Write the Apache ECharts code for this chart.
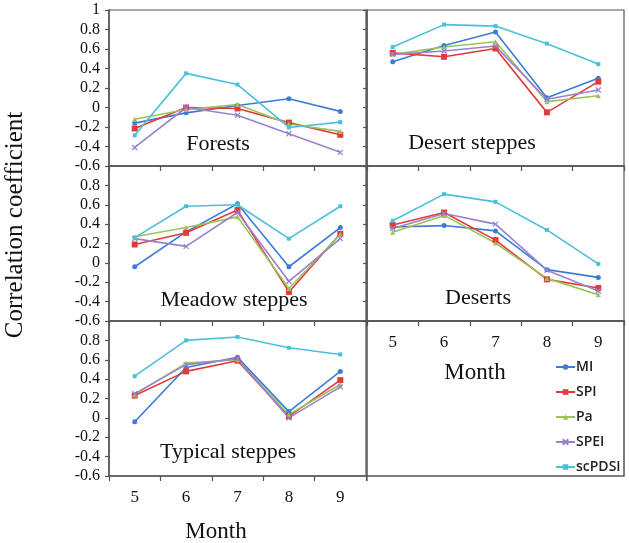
<!DOCTYPE html>
<html>
<head>
<meta charset="utf-8">
<script src="https://cdn.jsdelivr.net/npm/echarts@6/dist/echarts.min.js"></script>
<style>
html,body{margin:0;padding:0;background:#fff;}
#c{width:629px;height:543px;}
</style>
</head>
<body>
<div id="c"></div>
<script>
// ---- data ----
const months = ['5', '6', '7', '8', '9'];
const indexNames = ['MI', 'SPI', 'Pa', 'SPEI', 'scPDSI'];
const yTicks = [-0.6, -0.4, -0.2, 0, 0.2, 0.4, 0.6, 0.8, 1];

// order of rows: MI, SPI, Pa, SPEI, scPDSI
const forests = [
  [-0.16, -0.055, 0.02, 0.09, -0.04],
  [-0.215, 0.0, -0.01, -0.155, -0.28],
  [-0.12, -0.02, 0.03, -0.17, -0.245],
  [-0.41, 0.0, -0.08, -0.27, -0.46],
  [-0.285, 0.35, 0.235, -0.205, -0.15]
];
const desertSteppes = [
  [0.47, 0.635, 0.775, 0.1, 0.3],
  [0.56, 0.52, 0.605, -0.05, 0.265],
  [0.545, 0.62, 0.675, 0.06, 0.12],
  [0.545, 0.58, 0.63, 0.085, 0.18],
  [0.62, 0.85, 0.835, 0.655, 0.445]
];
const meadowSteppes = [
  [-0.04, 0.32, 0.61, -0.04, 0.365],
  [0.19, 0.31, 0.545, -0.30, 0.30],
  [0.27, 0.365, 0.475, -0.265, 0.295],
  [0.25, 0.17, 0.52, -0.19, 0.25],
  [0.26, 0.585, 0.60, 0.25, 0.585]
];
const deserts = [
  [0.37, 0.385, 0.33, -0.07, -0.15],
  [0.39, 0.52, 0.235, -0.17, -0.26],
  [0.315, 0.49, 0.205, -0.16, -0.33],
  [0.355, 0.51, 0.40, -0.075, -0.29],
  [0.435, 0.71, 0.63, 0.34, -0.01]
];
const typicalSteppes = [
  [-0.04, 0.52, 0.625, 0.065, 0.48],
  [0.23, 0.48, 0.59, 0.015, 0.39],
  [0.24, 0.565, 0.60, 0.035, 0.345],
  [0.25, 0.55, 0.61, 0.0, 0.32],
  [0.43, 0.80, 0.835, 0.724, 0.655]
];
const panelNames = ['Forests', 'Desert steppes', 'Meadow steppes', 'Deserts', 'Typical steppes'];

// ---- styling ----
const colors = ['#3a7dd6', '#e23a3a', '#9cc35a', '#9a82cf', '#4cc0da'];
const symbols = ['circle', 'rect', 'triangle', 'path://M0,0L10,10M10,0L0,10', 'rect'];
const symbolSizes = [5, 6, 5, 5, 4];
const lineCol = '#555';
const serif = '"Liberation Serif", "Times New Roman", serif';

const panels = [forests, desertSteppes, meadowSteppes, deserts, typicalSteppes];
const L = 109, R = 367, W = 257;
const grids = [
  {left: L, top: 10, width: W, height: 156},
  {left: R, top: 10, width: W, height: 156},
  {left: L, top: 166, width: W, height: 155},
  {left: R, top: 166, width: W, height: 155},
  {left: L, top: 321, width: W, height: 155}
].map(g => Object.assign(g, {show: true, borderColor: lineCol, borderWidth: 1.2, containLabel: false}));

const fmt = v => { const r = Math.round(v * 10) / 10; return String(r === 0 ? 0 : r); };

const xAxes = [], yAxes = [], series = [];
panels.forEach((p, gi) => {
  const isLeft = gi % 2 === 0;
  const showXLabel = gi === 3 || gi === 4;
  xAxes.push({
    type: 'category', gridIndex: gi, data: months, boundaryGap: true,
    axisLine: {show: true, onZero: false, lineStyle: {color: lineCol, width: 1.5}},
    axisTick: {show: true, length: 5, lineStyle: {color: lineCol, width: 1.2}},
    axisLabel: {show: showXLabel, margin: 13, color: '#111', fontFamily: serif, fontSize: 17},
    splitLine: {show: false}
  });
  yAxes.push({
    type: 'value', gridIndex: gi, min: -0.6, max: 1, interval: 0.2,
    axisLine: {show: true, onZero: false, lineStyle: {color: lineCol, width: 1.5}},
    axisTick: {show: true, length: 4, lineStyle: {color: lineCol, width: 1.2}},
    axisLabel: {
      show: isLeft, margin: 9, color: '#111', fontFamily: serif, fontSize: 16,
      showMaxLabel: gi === 0, formatter: fmt
    },
    splitLine: {show: false}
  });
  p.forEach((vals, si) => {
    series.push({
      name: indexNames[si], type: 'line', xAxisIndex: gi, yAxisIndex: gi,
      data: vals, color: colors[si], symbol: symbols[si], symbolSize: symbolSizes[si],
      showAllSymbol: true, lineStyle: {width: 1.6, color: colors[si]},
      itemStyle: {color: colors[si], borderColor: colors[si], borderWidth: si === 3 ? 1.3 : 0},
      z: si === 4 ? 3 : 2, animation: false
    });
  });
});

const panelLabelPos = [[218, 144], [472, 143], [234, 300], [478, 298], [228, 452]];
const graphics = panelNames.map((t, i) => ({
  type: 'text', x: panelLabelPos[i][0], y: panelLabelPos[i][1],
  style: {text: t, fill: '#111', font: '22px ' + serif, textAlign: 'center', textVerticalAlign: 'middle'}
}));
graphics.push({
  type: 'rect', shape: {x: R, y: 321, width: W, height: 155},
  style: {fill: 'none', stroke: lineCol, lineWidth: 1.5}
});
graphics.push({
  type: 'line', shape: {x1: R, y1: 476, x2: R, y2: 481},
  style: {stroke: lineCol, lineWidth: 1.2}
});
graphics.push({
  type: 'text', x: 216, y: 532,
  style: {text: 'Month', fill: '#111', font: '23px ' + serif, textAlign: 'center', textVerticalAlign: 'middle'}
});
graphics.push({
  type: 'text', x: 475, y: 373,
  style: {text: 'Month', fill: '#111', font: '23px ' + serif, textAlign: 'center', textVerticalAlign: 'middle'}
});
graphics.push({
  type: 'text', x: 15, y: 225, rotation: Math.PI / 2,
  style: {text: 'Correlation coefficient', fill: '#111', font: '25px ' + serif, textAlign: 'center', textVerticalAlign: 'middle'}
});

const chart = echarts.init(document.getElementById('c'), null, {renderer: 'canvas'});
chart.setOption({
  animation: false,
  backgroundColor: '#fff',
  grid: grids,
  xAxis: xAxes,
  yAxis: yAxes,
  series: series,
  legend: {
    data: indexNames, orient: 'vertical', left: 550, top: 355,
    itemWidth: 19, itemHeight: 7, itemGap: 11,
    textStyle: {fontFamily: '"Open Sans", "Noto Sans", sans-serif', fontSize: 14, fontWeight: 600, color: '#222', padding: [0, 0, 0, -4]}
  },
  graphic: graphics
});
</script>
</body>
</html>
